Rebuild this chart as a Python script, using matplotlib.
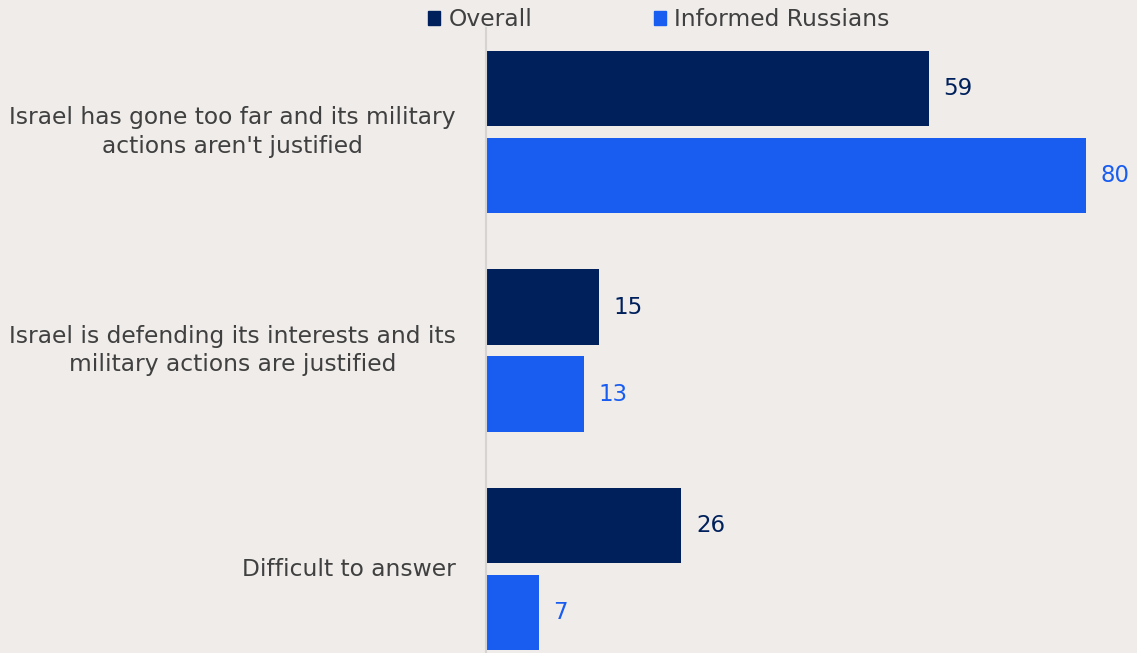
import matplotlib
matplotlib.use("Agg")
import matplotlib.pyplot as plt
import matplotlib.transforms as mtransforms
from matplotlib.patches import Patch

categories = [
    "Israel has gone too far and its military\nactions aren't justified",
    "Israel is defending its interests and its\nmilitary actions are justified",
    "Difficult to answer",
]
overall = [59, 15, 26]
informed = [80, 13, 7]
series_names = ["Overall", "Informed Russians"]

BG = "#efecea"
NAVY = "#00205b"
BLUE = "#185cf0"
TEXT = "#404040"
FONT = "DejaVu Sans"
FS = 16.8
FS_VAL = 16.5

plt.rcParams["font.family"] = [FONT]

W, H = 1137, 653
fig = plt.figure(figsize=(W / 100, H / 100), dpi=100, facecolor=BG)
ax = fig.add_axes([486 / W, 0, 1 - 486 / W, (H - 28) / H], facecolor=BG)

y = list(range(len(categories)))
bar_h = 0.3455
off = 0.199

ax.barh([v - off for v in y], overall, height=bar_h, color=NAVY)
ax.barh([v + off for v in y], informed, height=bar_h, color=BLUE)

for yi, v in zip(y, overall):
    ax.text(v + 2.0, yi - off, f"{v}", va="center", ha="left", fontsize=FS_VAL, color=NAVY)
for yi, v in zip(y, informed):
    ax.text(v + 2.0, yi + off, f"{v}", va="center", ha="left", fontsize=FS_VAL, color=BLUE)

ax.set_xlim(0, (W - 486) / 7.5)
ax.set_ylim(2 + 0.384, -0.476)
ax.set_yticks([])
ax.set_xticks([])

# category labels: right edge a little left of the axis, lines centred
trans = mtransforms.blended_transform_factory(ax.transAxes, ax.transData)
offset = mtransforms.ScaledTranslation(-30 / 100, 0, fig.dpi_scale_trans)
for yi, lab in zip(y, categories):
    ax.text(0, yi, lab, transform=trans + offset, ha="right", va="center",
            multialignment="center", fontsize=FS, color=TEXT, linespacing=1.3)

for s in ["top", "right", "bottom"]:
    ax.spines[s].set_visible(False)
ax.spines["left"].set_color("#d6d4d2")
ax.spines["left"].set_linewidth(1.5)

handles = [Patch(color=NAVY, label=series_names[0]), Patch(color=BLUE, label=series_names[1])]
fig.legend(handles=handles, loc="upper left", bbox_to_anchor=(426 / W, 1 - 6 / H), ncol=2,
           frameon=False, fontsize=FS, handlelength=0.52, handleheight=0.52,
           handletextpad=0.34, columnspacing=5.2, labelcolor=TEXT, borderpad=0.1,
           borderaxespad=0)

fig.savefig("out.png", dpi=100, facecolor=BG)
